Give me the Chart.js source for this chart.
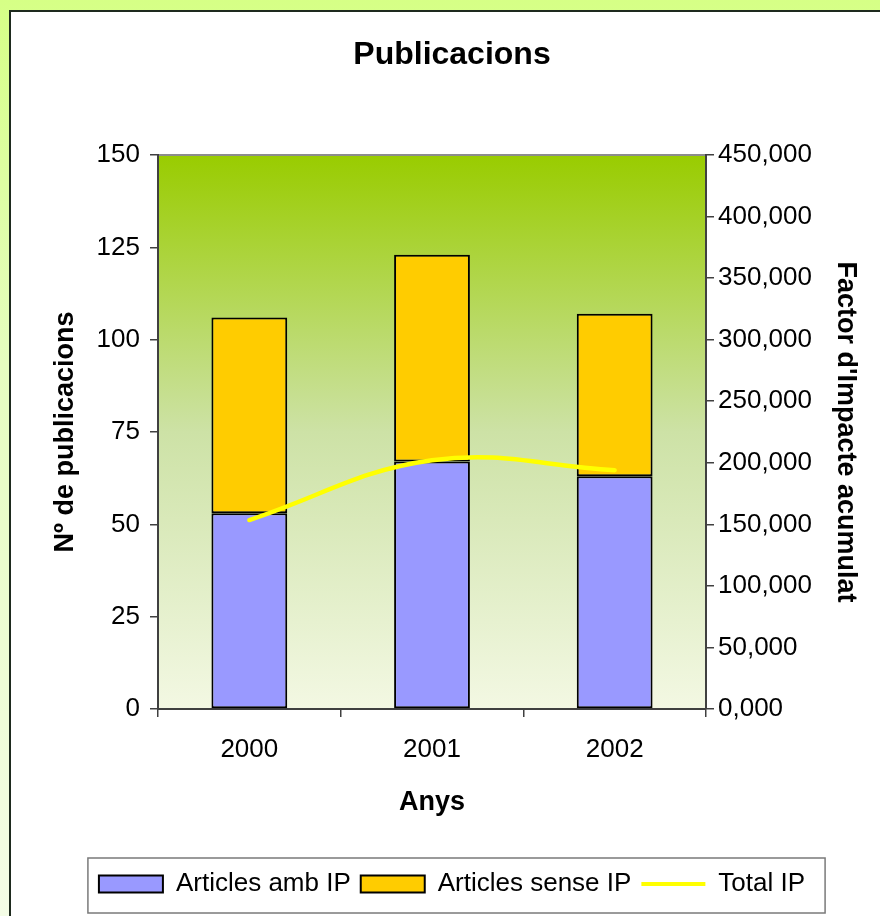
<!DOCTYPE html>
<html>
<head>
<meta charset="utf-8">
<script src="https://cdn.jsdelivr.net/npm/chart.js@4.4.1/dist/chart.umd.min.js"></script>
<style>
  html, body { margin: 0; padding: 0; }
  body {
    width: 880px; height: 916px; overflow: hidden; position: relative;
    background: linear-gradient(to bottom, #d6ff86 0%, #e6fdc0 40%, #f4fde6 100%);
  }
  #frame {
    position: absolute; left: 9px; top: 10px; width: 900px; height: 940px;
    background: #ffffff; border-left: 2px solid #1e2a1e; border-top: 2px solid #1e2a1e;
  }
  #wrap { position: absolute; left: 0; top: 0; width: 880px; height: 916px; }
</style>
</head>
<body>
<div id="frame"></div>
<div id="wrap"><canvas id="chart" width="880" height="916"></canvas></div>
<script>
// Données
const years = ['2000', '2001', '2002'];
const articlesAmbIP = [53, 67, 63];
const articlesSenseIP = [53, 56, 44];
const totalIP = [153.5, 202, 194];

const leftMax = 150, leftStep = 25;
const rightMax = 450, rightStep = 50;

Chart.defaults.font.family = '"Liberation Sans", Arial, sans-serif';
Chart.defaults.color = '#000000';

// Fond dégradé de la zone de tracé
const plotBackground = {
    id: 'plotBackground',
    beforeDraw(chart) {
        const { ctx, chartArea: a } = chart;
        const g = ctx.createLinearGradient(0, a.top, 0, a.bottom);
        g.addColorStop(0, '#99cc00');
        g.addColorStop(0.5, '#cde2a6');
        g.addColorStop(1, '#f3f8e3');
        ctx.save();
        ctx.fillStyle = g;
        ctx.fillRect(a.left, a.top, a.right - a.left, a.bottom - a.top);
        ctx.strokeStyle = '#8c8c8c';
        ctx.lineWidth = 2;
        ctx.beginPath();
        ctx.moveTo(a.left, a.top);
        ctx.lineTo(a.right, a.top);
        ctx.stroke();
        ctx.restore();
    }
};

// Cadre autour de la légende
const legendFrame = {
    id: 'legendFrame',
    beforeDraw(chart) {
        const boxes = chart.legend.legendHitBoxes;
        if (!boxes || !boxes.length) return;
        const first = boxes[0], last = boxes[boxes.length - 1];
        const cy = first.top + first.height / 2;
        const x1 = first.left - 11, x2 = last.left + last.width + 20;
        const ctx = chart.ctx;
        ctx.save();
        ctx.fillStyle = '#ffffff';
        ctx.fillRect(x1, cy - 26, x2 - x1, 55);
        ctx.strokeStyle = '#7a7a7a';
        ctx.lineWidth = 1.5;
        ctx.strokeRect(x1, cy - 26, x2 - x1, 55);
        ctx.restore();
    }
};

const ctx = document.getElementById('chart').getContext('2d');
new Chart(ctx, {
    type: 'bar',
    data: {
        labels: years,
        datasets: [
            {
                label: 'Articles amb IP',
                data: articlesAmbIP,
                backgroundColor: '#9999ff',
                borderColor: '#000000',
                borderWidth: 2,
                borderSkipped: false,
                stack: 'a',
                yAxisID: 'y',
                order: 1,
                categoryPercentage: 1,
                barPercentage: 0.415
            },
            {
                label: 'Articles sense IP',
                data: articlesSenseIP,
                backgroundColor: '#ffcc00',
                borderColor: '#000000',
                borderWidth: 2,
                borderSkipped: false,
                stack: 'a',
                yAxisID: 'y',
                order: 1,
                categoryPercentage: 1,
                barPercentage: 0.415
            },
            {
                type: 'line',
                label: 'Total IP',
                data: totalIP,
                borderColor: '#ffff00',
                backgroundColor: '#ffff00',
                borderWidth: 4.5,
                borderCapStyle: 'round',
                pointRadius: 0,
                tension: 0.4,
                yAxisID: 'y1',
                order: 0
            }
        ]
    },
    options: {
        responsive: false,
        animation: false,
        layout: { padding: { left: 24, right: 0, top: 0, bottom: 9 } },
        scales: {
            x: {
                stacked: true,
                grid: { drawOnChartArea: false, drawTicks: true, tickLength: 8, color: '#404040', lineWidth: 1.5 },
                border: { color: '#404040', width: 2 },
                ticks: { font: { size: 26 }, padding: 17, color: '#000' },
                title: { display: true, text: 'Anys', font: { size: 27, weight: 'bold' }, padding: { top: 0, bottom: 42 }, color: '#000' },
                afterFit(scale) { scale.height = 152; }
            },
            y: {
                position: 'left',
                stacked: true,
                min: 0,
                max: leftMax,
                grid: { drawOnChartArea: false, drawTicks: true, tickLength: 8, color: '#404040', lineWidth: 1.5 },
                border: { color: '#404040', width: 2 },
                ticks: { stepSize: leftStep, font: { size: 26 }, padding: 10, color: '#000' },
                title: { display: true, text: 'Nº de publicacions', font: { size: 27, weight: 'bold' }, padding: { top: 25, bottom: 0 }, color: '#000' },
                afterFit(scale) { scale.width = 134; }
            },
            y1: {
                position: 'right',
                min: 0,
                max: rightMax,
                grid: { drawOnChartArea: false, drawTicks: true, tickLength: 8, color: '#404040', lineWidth: 1.5 },
                border: { color: '#404040', width: 2 },
                ticks: {
                    stepSize: rightStep,
                    font: { size: 26 },
                    padding: 4,
                    color: '#000',
                    callback: v => v.toFixed(3).replace('.', ',')
                },
                title: { display: true, text: "Factor d'Impacte acumulat", font: { size: 27, weight: 'bold' }, padding: { top: 18, bottom: 0 }, color: '#000' },
                afterFit(scale) { scale.width = 174; }
            }
        },
        plugins: {
            title: {
                display: true,
                text: 'Publicacions',
                font: { size: 32, weight: 'bold' },
                color: '#000',
                padding: { top: 36, bottom: 80.6 }
            },
            legend: {
                position: 'bottom',
                labels: {
                    font: { size: 26 },
                    color: '#000',
                    usePointStyle: true,
                    pointStyleWidth: 64,
                    boxHeight: 17,
                    padding: 10,
                    sort: (a, b) => a.datasetIndex - b.datasetIndex,
                    generateLabels(chart) {
                        const items = Chart.defaults.plugins.legend.labels.generateLabels(chart);
                        items.forEach(item => {
                            const ds = chart.data.datasets[item.datasetIndex];
                            if (ds.type === 'line') {
                                item.pointStyle = 'line';
                                item.strokeStyle = '#ffff00';
                                item.lineWidth = 4;
                            } else {
                                item.pointStyle = 'rect';
                                item.fillStyle = ds.backgroundColor;
                                item.strokeStyle = '#000000';
                                item.lineWidth = 2;
                            }
                        });
                        return items;
                    }
                }
            },
            tooltip: { enabled: false }
        }
    },
    plugins: [plotBackground, legendFrame]
});
</script>
</body>
</html>
